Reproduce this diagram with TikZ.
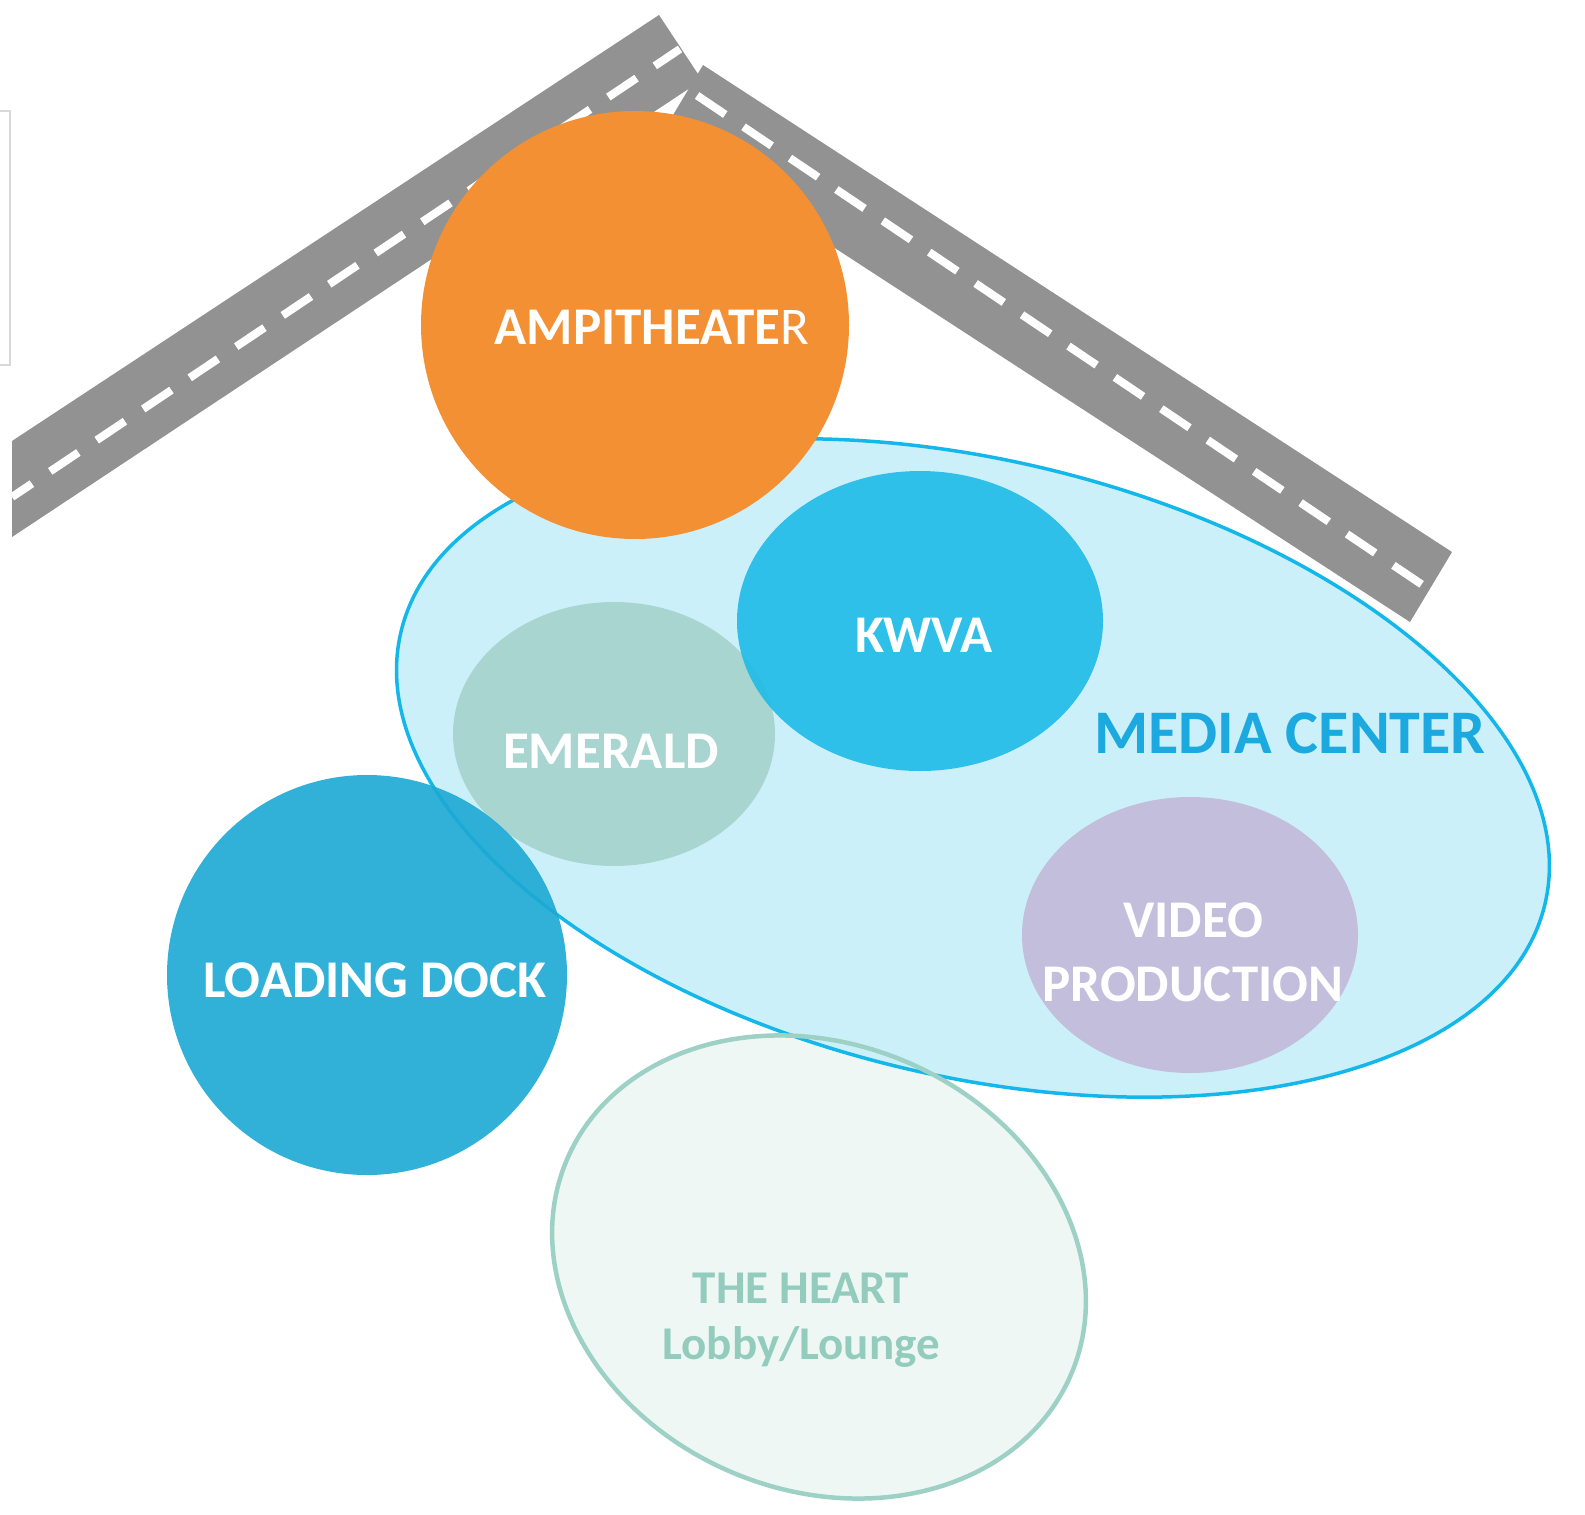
\documentclass[tikz,border=0pt]{standalone}
\usepackage{fontspec}
\setmainfont{Carlito}
\usepackage{color}
\usepackage{tikz}

\definecolor{roadgray}{HTML}{929292}
\definecolor{framegray}{HTML}{D9D9D9}
\definecolor{amporange}{HTML}{F39034}
\definecolor{mediafill}{HTML}{CCF0F9}
\definecolor{mediablue}{HTML}{13B7E9}
\definecolor{mediatext}{HTML}{1BA9E0}
\definecolor{kwvablue}{HTML}{1FBBE8}
\definecolor{emeraldgreen}{HTML}{A9D5D1}
\definecolor{videolilac}{HTML}{C3BEDB}
\definecolor{dockblue}{HTML}{1CA9D4}
\definecolor{heartfill}{HTML}{EEF7F4}
\definecolor{heartline}{HTML}{9ED1C6}
\definecolor{hearttext}{HTML}{93CCBD}

\begin{document}
\begin{tikzpicture}[x=1pt,y=-1pt,
		road/.style={fill=roadgray},
		roadmark/.style={white,line width=8pt,dash pattern=on 34pt off 22pt},
		room/.style={text=white,font=\fontsize{53}{64}\selectfont\bfseries,align=center}]
		\useasboundingbox (0,0) rectangle (1585,1515);
		\coordinate (MC) at (973,768);
		\coordinate (HC) at (819,1267);
		\coordinate (AC) at (635,325);
		\draw[framegray,line width=1.5pt] (-2,111) rectangle (10,365);
		% roads
		\fill[road] (703,65) -- (1452,552) -- (1410,622) -- (661,135) -- cycle;
		\fill[road] (12,441) -- (659,15) -- (702,80) -- (12,537) -- cycle;
		\draw[roadmark,dash phase=10pt] (12,497) -- (680,49);
		\draw[roadmark,dash phase=39pt] (683,86) -- (1430,590);
		% rooms
		\fill[heartfill,rotate around={-23:(HC)}] (HC) ellipse [x radius=274,y radius=223];
		\draw[mediablue,fill=mediafill,line width=3.5pt,rotate around={-13.4:(MC)}] (MC) ellipse [x radius=588,y radius=308];
		\draw[heartline,line width=4.5pt,rotate around={-23:(HC)}] (HC) ellipse [x radius=274,y radius=223];
		\fill[amporange] (AC) circle [radius=214];
		\fill[emeraldgreen] (614,734) ellipse [x radius=161,y radius=132];
		\fill[kwvablue,fill opacity=0.9] (920,621) ellipse [x radius=183,y radius=150];
		\fill[videolilac] (1190,935) ellipse [x radius=168,y radius=138];
		\fill[dockblue,fill opacity=0.9] (367,975) circle [radius=200];
		% labels
		\node[room] (amp) at (652,327) {AMPITHEATE{\mdseries R}};
		\node[room] (kwva) at (924,635) {KWVA};
		\node[room] (emerald) at (611,751) {EMERALD};
		\node[room] (dock) at (375,980) {LOADING DOCK};
		\node[room] (video) at (1193,952) {VIDEO\\PRODUCTION};
		\node[text=mediatext,font=\fontsize{62}{70}\selectfont\bfseries] (media) at (1290,733) {MEDIA CENTER};
		\node[text=hearttext,font=\fontsize{47}{56}\selectfont\bfseries,align=center] (heart) at (801,1320) {THE HEART\\Lobby/Lounge};
\end{tikzpicture}
\end{document}
